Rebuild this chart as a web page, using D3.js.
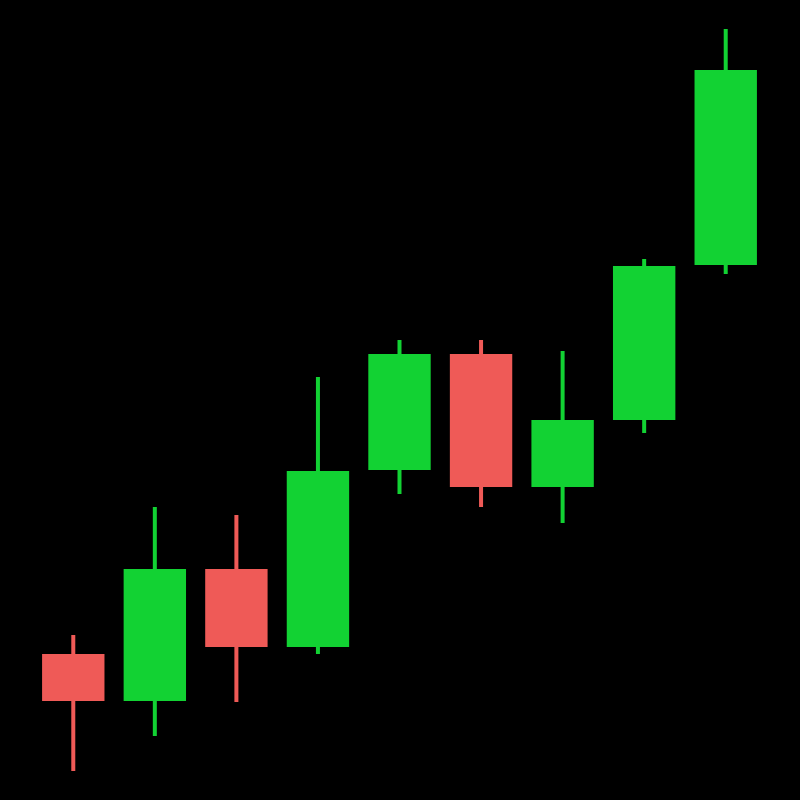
<!DOCTYPE html>
<html>
<head>
<meta charset="utf-8">
<script src="https://cdn.jsdelivr.net/npm/d3@7"></script>
<style>
  html, body { margin: 0; padding: 0; background: #000; }
  svg { display: block; }
</style>
</head>
<body>
<div id="chart"></div>
<script>
// Candle data (arbitrary price units)
const days  = ['d1', 'd2', 'd3', 'd4', 'd5', 'd6', 'd7', 'd8', 'd9'];
const open  = [14.6,  9.9, 23.1, 15.3, 33.0, 44.6, 31.3, 38.0, 53.5];
const high  = [16.5, 29.3, 28.5, 42.3, 46.0, 46.0, 44.9, 54.1, 77.1];
const low   = [ 2.9,  6.4,  9.8, 14.6, 30.6, 29.3, 27.7, 36.7, 52.6];
const close = [ 9.9, 23.1, 15.3, 32.9, 44.6, 31.3, 38.0, 53.4, 73.0];

const width = 800;
const height = 800;
const upColor = '#12d233';
const downColor = '#ef5a57';

const candles = days.map((d, i) => ({
  day: d, open: open[i], high: high[i], low: low[i], close: close[i]
}));

const svg = d3.select('#chart').append('svg')
  .attr('width', width)
  .attr('height', height)
  .attr('viewBox', [0, 0, width, height]);

svg.append('rect')
  .attr('width', width)
  .attr('height', height)
  .attr('fill', '#000');

const x = d3.scaleBand()
  .domain(days)
  .range([32.5, 766.5])
  .paddingInner(0.235)
  .paddingOuter(0.1175);

const y = d3.scaleLinear()
  .domain([0, 80])
  .range([height, 0]);

const color = d => d.close >= d.open ? upColor : downColor;

const g = svg.append('g').attr('class', 'candles')
  .selectAll('.candle')
  .data(candles)
  .join('g')
    .attr('class', 'candle');

// wicks
g.append('line')
    .attr('x1', d => x(d.day) + x.bandwidth() / 2)
    .attr('x2', d => x(d.day) + x.bandwidth() / 2)
    .attr('y1', d => y(d.high))
    .attr('y2', d => y(d.low))
    .attr('stroke', color)
    .attr('stroke-width', 4);

// bodies
g.append('rect')
    .attr('x', d => x(d.day))
    .attr('width', x.bandwidth())
    .attr('y', d => y(Math.max(d.open, d.close)))
    .attr('height', d => Math.abs(y(d.open) - y(d.close)))
    .attr('fill', color);
</script>
</body>
</html>
